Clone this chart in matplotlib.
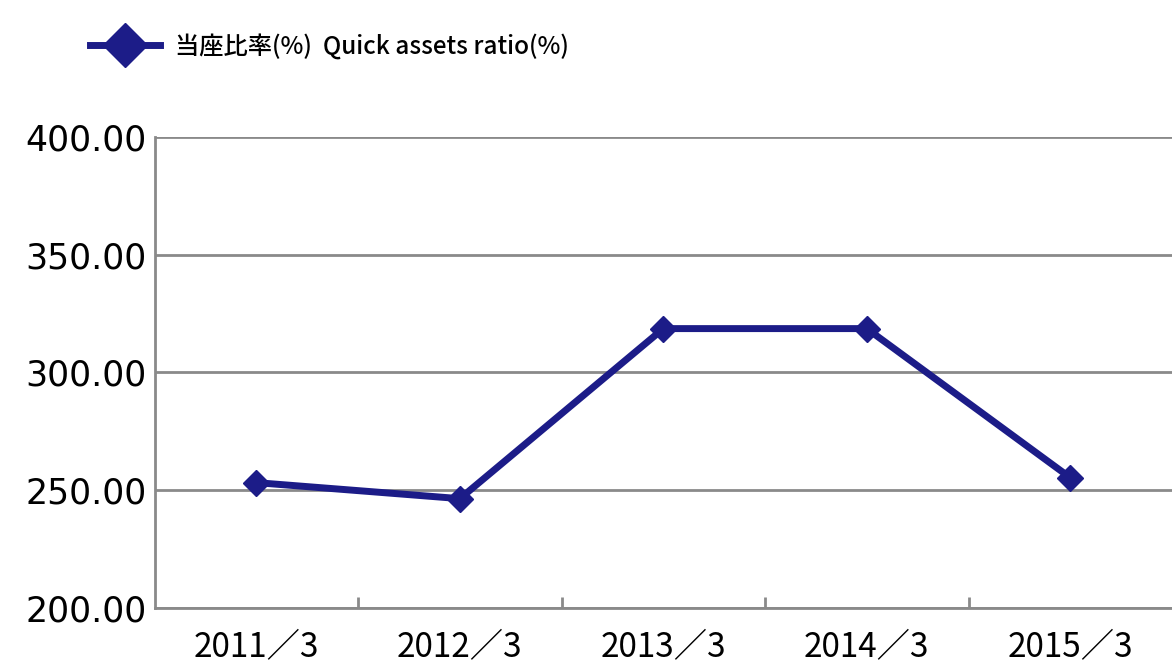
import matplotlib
matplotlib.use("Agg")
import matplotlib.pyplot as plt

plt.rcParams['font.family'] = ['Noto Sans CJK JP', 'DejaVu Sans']

# data
periods = ['2011／3', '2012／3', '2013／3', '2014／3', '2015／3']
quick_ratio = [253.2, 246.4, 318.6, 318.6, 255.3]
series_label = '当座比率(%)  Quick assets ratio(%)'
y_ticks = [200, 250, 300, 350, 400]

navy = '#1c1c88'
grid_gray = '#8a8a8a'

fig = plt.figure(figsize=(11.72, 6.71), dpi=100)
ax = fig.add_axes([0.132, 0.094, 0.868, 0.702])

x = list(range(len(periods)))
ax.plot(x, quick_ratio, color=navy, lw=5, marker='D', markersize=13,
        label=series_label, solid_joinstyle='miter', zorder=3)

ax.set_xlim(-0.5, len(periods) - 0.5)
ax.set_ylim(200, 400)
ax.set_yticks(y_ticks)
ax.set_yticklabels([f'{v:.2f}' for v in y_ticks], family='DejaVu Sans')
ax.set_xticks(x)
ax.set_xticklabels(periods)
ax.set_xticks([i + 0.5 for i in x[:-1]], minor=True)

ax.tick_params(axis='y', length=0, pad=6, labelsize=25)
ax.tick_params(axis='x', which='major', length=0, pad=16, labelsize=24)
ax.tick_params(axis='x', which='minor', direction='in', length=8, width=2, color=grid_gray)

ax.grid(axis='y', color=grid_gray, lw=2)
ax.set_axisbelow(True)
for side in ['top', 'right']:
    ax.spines[side].set_visible(False)
for side in ['left', 'bottom']:
    ax.spines[side].set_color(grid_gray)
    ax.spines[side].set_linewidth(2)

leg = ax.legend(loc='center left', bbox_to_anchor=(0.058, 0.93),
                bbox_transform=fig.transFigure, frameon=False,
                prop={'size': 17.5, 'weight': 'medium'},
                markerscale=1.7, handlelength=2.9, handletextpad=0.6)

fig.savefig('out.png', dpi=100)
